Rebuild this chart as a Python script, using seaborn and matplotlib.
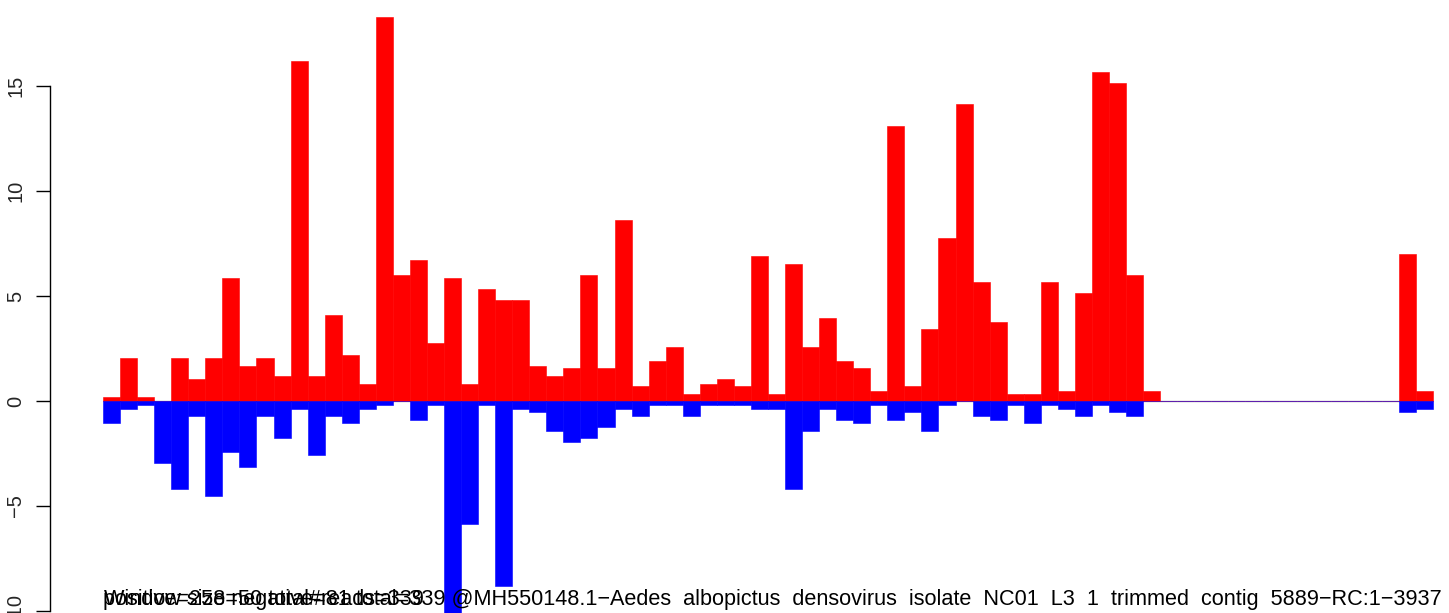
import matplotlib
matplotlib.use("Agg")
import matplotlib.pyplot as plt
import pandas as pd
import seaborn as sns

# per-window read coverage (window size = 50)
positive = [0.19, 2.07, 0.19, 0, 2.07, 1.04, 2.07, 5.85, 1.69, 2.07, 1.17, 16.2, 1.17, 4.11, 2.2, 0.83,
            18.3, 6.0, 6.72, 2.74, 5.85, 0.83, 5.33, 4.81, 4.81, 1.69, 1.17, 1.56, 6.0, 1.56, 8.61, 0.70,
            1.89, 2.59, 0.31, 0.83, 1.04, 0.70, 6.9, 0.31, 6.52, 2.59, 3.96, 1.89, 1.56, 0.5, 13.1, 0.70,
            3.44, 7.76, 14.15, 5.67, 3.78, 0.31, 0.31, 5.67, 0.5, 5.15, 15.67, 15.15, 6.0, 0.5,
            0, 0, 0, 0, 0, 0, 0, 0, 0, 0, 0, 0, 0, 0, 7.02, 0.5]
negative = [1.04, 0.37, 0.19, 2.93, 4.17, 0.70, 4.5, 2.41, 3.13, 0.70, 1.74, 0.37, 2.59, 0.70, 1.04, 0.37,
            0.19, 0, 0.89, 0.19, 10.8, 5.87, 0.19, 8.8, 0.37, 0.52, 1.41, 1.94, 1.74, 1.22, 0.37, 0.70,
            0.19, 0.19, 0.70, 0.19, 0.19, 0.19, 0.37, 0.37, 4.17, 1.41, 0.37, 0.89, 1.04, 0.19, 0.89, 0.52,
            1.41, 0.19, 0, 0.70, 0.89, 0.19, 1.04, 0.19, 0.37, 0.70, 0.19, 0.52, 0.70, 0,
            0, 0, 0, 0, 0, 0, 0, 0, 0, 0, 0, 0, 0, 0, 0.52, 0.37]
y_ticks = [-10, -5, 0, 5, 10, 15]
info_text = "positive=258 negative=81 total=339"
window_text = "Window size=50 total#reads=339"
ref_text = ("@MH550148.1\u2212Aedes  albopictus  densovirus  isolate  NC01  L3  1  "
            "trimmed  contig  5889\u2212RC:1\u22123937")

sns.set_theme(style="white")
plt.rcParams['font.family'] = ['Liberation Sans', 'DejaVu Sans']

df = pd.DataFrame({
    'bin': list(range(len(positive))),
    'pos': positive,
    'neg': [-v for v in negative],
})

fig = plt.figure(figsize=(14.49, 6.13), dpi=100)
ax = fig.add_axes([50.5 / 1449, 0, 1 - 50.5 / 1449, 1])

ax.hlines(0, -0.5, len(positive) - 0.5, color='#a0a0a0', linewidth=1.0, zorder=0)
sns.barplot(data=df, x='bin', y='pos', color='#ff0000', saturation=1, width=1,
            edgecolor='#ff0000', linewidth=0.4, ax=ax, zorder=2)
sns.barplot(data=df, x='bin', y='neg', color='#0000ff', saturation=1, width=1,
            edgecolor='#0000ff', linewidth=0.4, ax=ax, zorder=2)

bar_px = 17.05
ax.set_xlim(-0.5 - 52.5 / bar_px, -0.5 + (1449 - 103) / bar_px)
ax.set_ylim(-(613 - 401) / 21, 401 / 21)

for side in ['top', 'right', 'bottom']:
    ax.spines[side].set_visible(False)
ax.spines['left'].set_bounds(-10, 15)
ax.spines['left'].set_color('black')
ax.spines['left'].set_linewidth(1.0)
ax.set_xticks([])
ax.set_xlabel('')
ax.set_ylabel('')
ax.set_yticks(y_ticks)
ax.set_yticklabels([str(t).replace('-', '\u2212') for t in y_ticks], rotation=90, va='center',
                   fontsize=14.5)
ax.tick_params(axis='y', left=True, length=10, width=1, color='black', pad=8)

fig.text(103 / 1449, 8 / 613, info_text + " " + ref_text, fontsize=15.6, ha='left', va='baseline',
         color='black')
fig.text(104 / 1449, 8 / 613, window_text, fontsize=15.6, ha='left', va='baseline', color='black')

fig.savefig('out.png', dpi=100)
